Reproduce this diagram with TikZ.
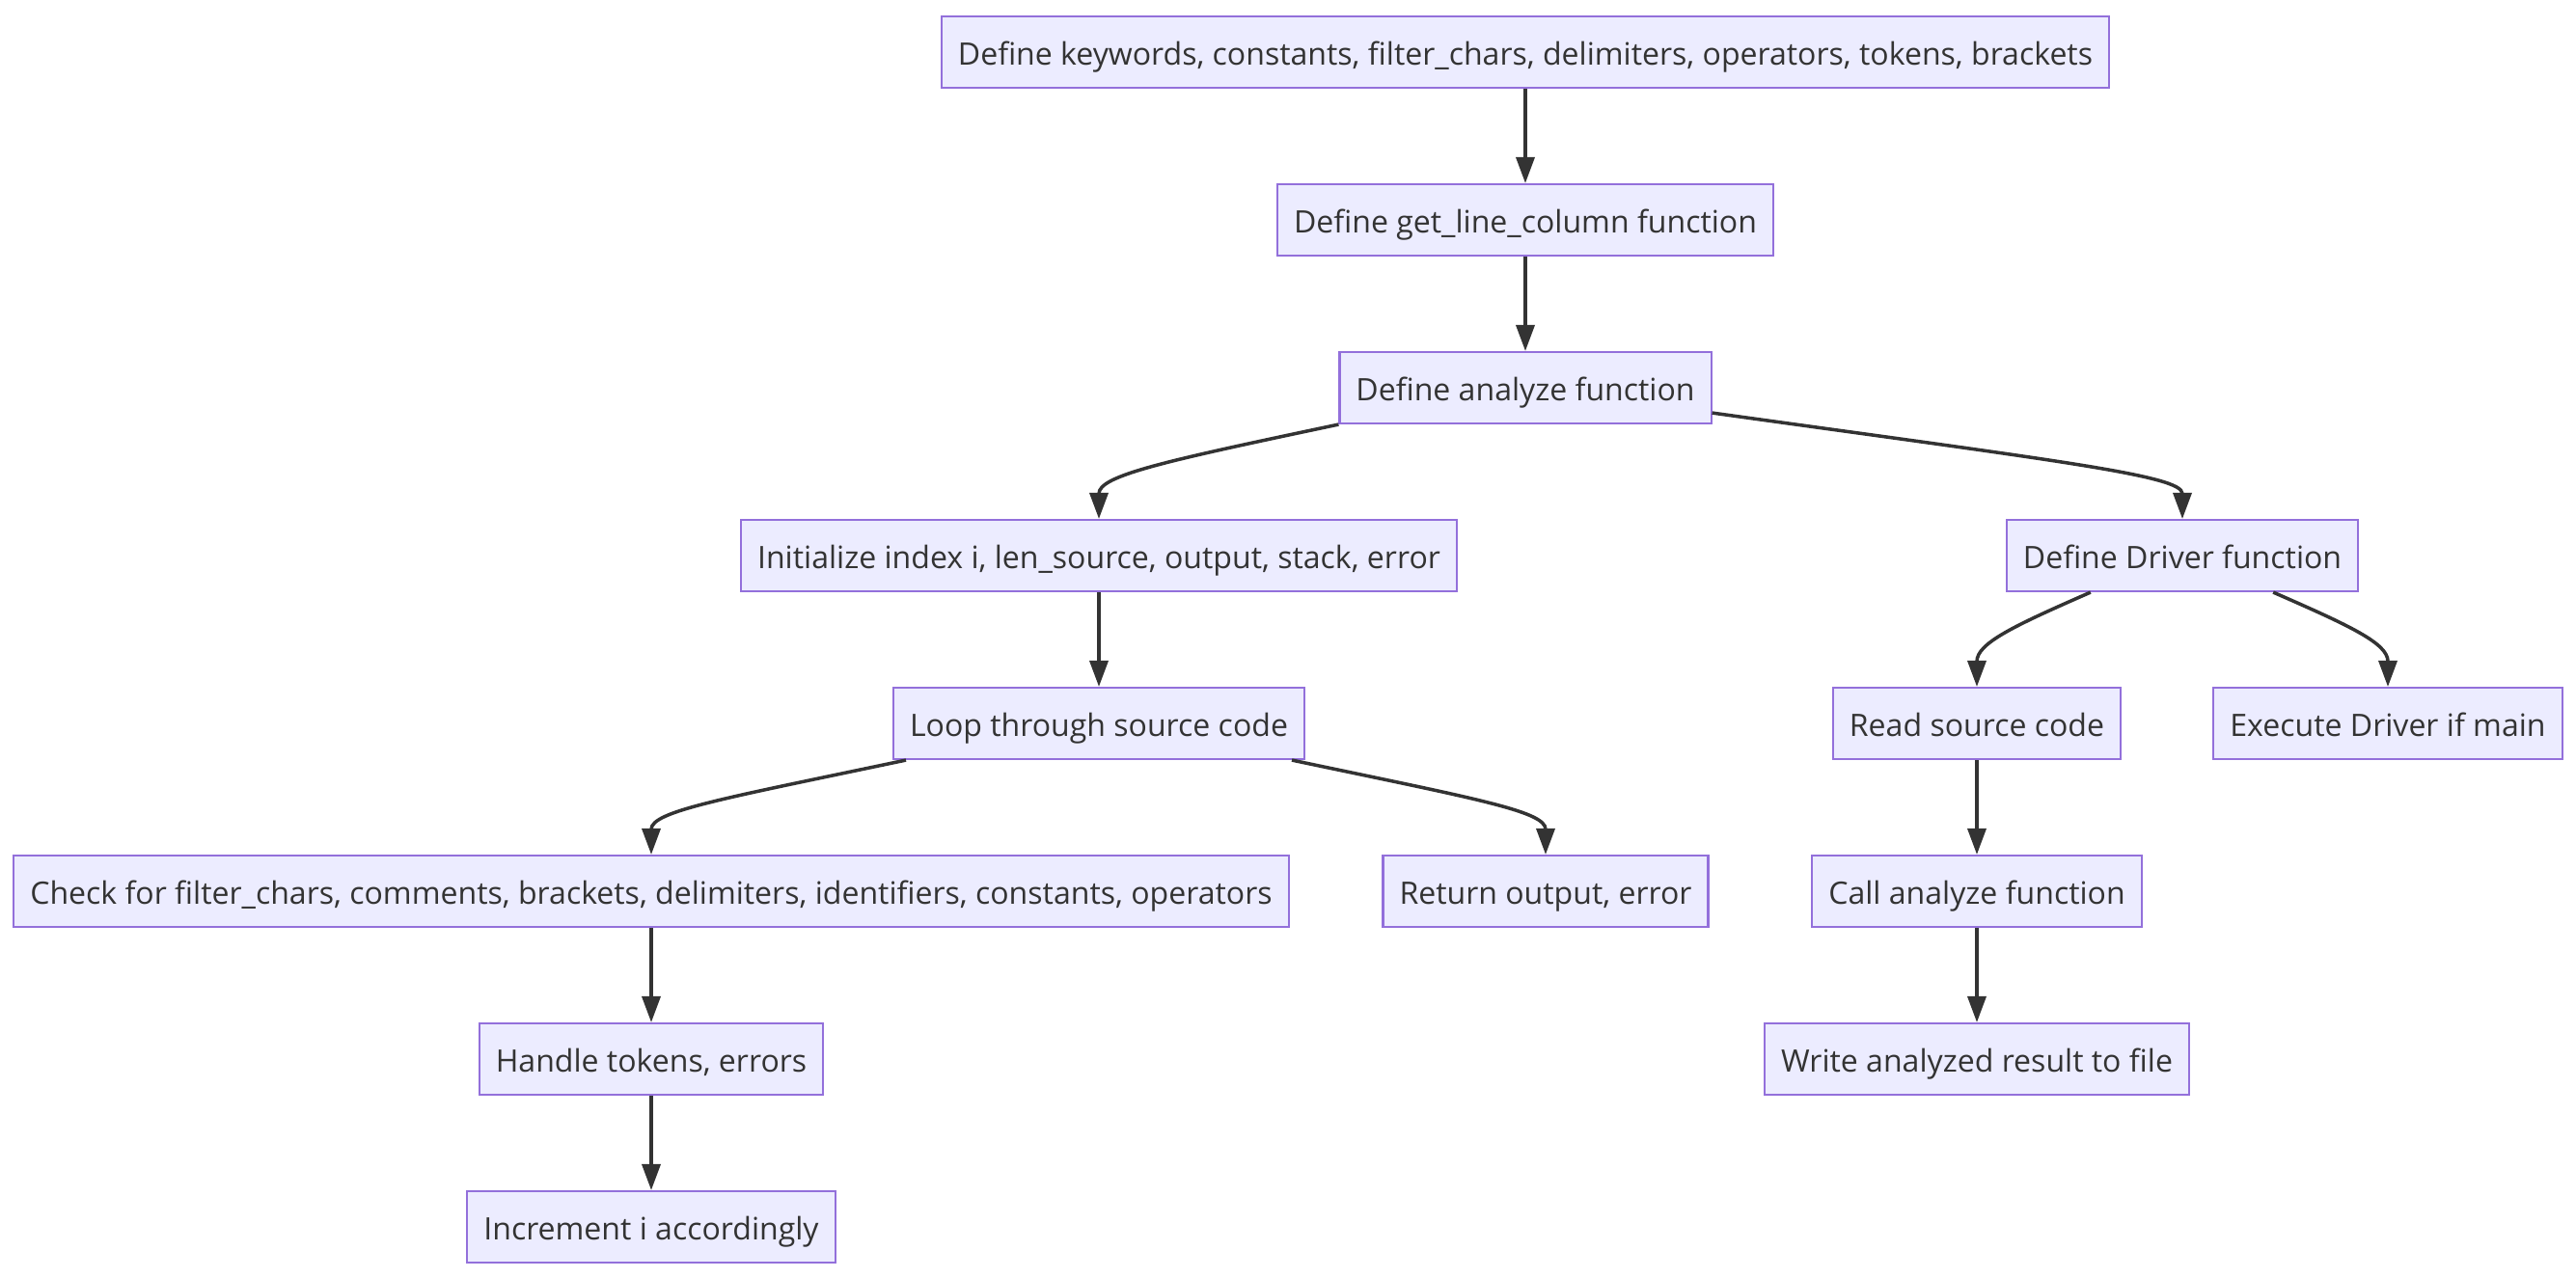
\documentclass[tikz,border=0pt]{standalone}
\usepackage{fontspec}
\setmainfont{Open Sans}
\usepackage{xcolor}
\definecolor{boxfill}{HTML}{ECECFF}
\definecolor{boxline}{HTML}{9370DB}
\definecolor{edgegray}{HTML}{333333}
\usepackage{tikz}
\usetikzlibrary{arrows.meta, calc}

\begin{document}
\begin{tikzpicture}[
  stepnode/.style={draw=boxline, fill=boxfill, line width=0.6pt, text=edgegray,
    font=\fontsize{9.12}{11}\selectfont, minimum height=0.74cm, inner xsep=0.17cm,
    text height=8.9pt, text depth=1.5pt},
  flow/.style={draw=edgegray, line width=1pt, -{Triangle[length=0.27cm,width=0.19cm]}}
]
\useasboundingbox (0,0) rectangle (26.7,-13.24);

% main chain
\node[stepnode] (top)   at (15.81,-0.54) {Define keywords, constants, filter\_chars, delimiters, operators, tokens, brackets};
\node[stepnode] (getlc) at (15.81,-2.28) {Define get\_line\_column function};
\node[stepnode] (ana)   at (15.81,-4.02) {Define analyze function};

% analyze branch
\node[stepnode] (init)   at (11.39,-5.76) {Initialize index i, len\_source, output, stack, error};
\node[stepnode] (loop)   at (11.39,-7.50) {Loop through source code};
\node[stepnode] (check)  at (6.75,-9.24)  {Check for filter\_chars, comments, brackets, delimiters, identifiers, constants, operators};
\node[stepnode] (ret)    at (16.02,-9.24) {Return output, error};
\node[stepnode] (handle) at (6.75,-10.98) {Handle tokens, errors};
\node[stepnode] (incr)   at (6.75,-12.72) {Increment i accordingly};

% driver branch
\node[stepnode] (driver) at (22.62,-5.76) {Define Driver function};
\node[stepnode] (read)   at (20.49,-7.50) {Read source code};
\node[stepnode] (exec)   at (24.75,-7.50) {Execute Driver if main};
\node[stepnode] (call)   at (20.49,-9.24) {Call analyze function};
\node[stepnode] (write)  at (20.49,-10.98) {Write analyzed result to file};

\foreach \a/\b in {top/getlc, getlc/ana, init/loop, check/handle, handle/incr, read/call, call/write}
  \draw[flow] (\a.south) -- (\b.north);

% branching curves
\draw[flow] (ana.south west) .. controls +(-1.8,-0.38) and +(0,0.45) .. (init.north);
\draw[flow] ($(ana.south east)+(0,0.12)$) .. controls +(3.6,-0.5) and +(0,0.45) .. (driver.north);
\draw[flow] ($(loop.south west)+(0.14,0)$) .. controls +(-1.9,-0.4) and +(0,0.45) .. (check.north);
\draw[flow] ($(loop.south east)+(-0.14,0)$) .. controls +(1.9,-0.4) and +(0,0.45) .. (ret.north);
\draw[flow] ($(driver.south west)+(0.88,0)$) .. controls +(-0.8,-0.35) and +(0,0.45) .. (read.north);
\draw[flow] ($(driver.south east)+(-0.89,0)$) .. controls +(0.8,-0.35) and +(0,0.45) .. (exec.north);
\end{tikzpicture}
\end{document}
